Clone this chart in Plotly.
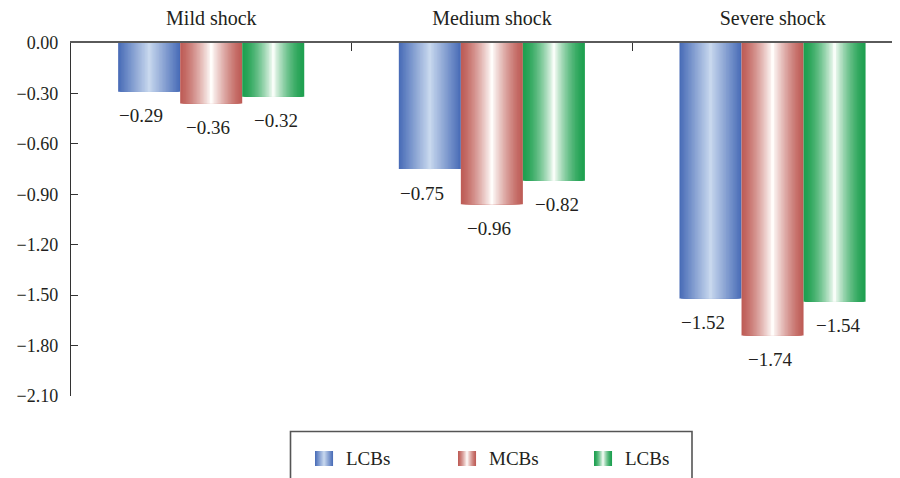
import plotly.graph_objects as go

# ---------------- data ----------------
categories = ["Mild shock", "Medium shock", "Severe shock"]
series_names = ["LCBs", "MCBs", "LCBs"]
lcbs_1 = [-0.29, -0.75, -1.52]
mcbs = [-0.36, -0.96, -1.74]
lcbs_2 = [-0.32, -0.82, -1.54]
series_values = [lcbs_1, mcbs, lcbs_2]
y_ticks = [0.0, -0.3, -0.6, -0.9, -1.2, -1.5, -1.8, -2.1]

# ---------------- styling ----------------
edge_colors = [(70, 106, 182), (190, 92, 86), (30, 160, 80)]
center_colors = [(200, 216, 238), (255, 253, 251), (248, 253, 248)]
grad_power = [1.0, 1.35, 1.6]
FONT = "Liberation Serif"
OFF = 8  # page body margin offset
W, H = 900, 478
L, R, T, B = 71 - OFF, OFF, 43 - OFF, 82 + OFF
PW, PH = W - L - R, H - T - B

BAR_W = 0.221
GROUP_LEFT = -0.332
N_LAYERS = 22


def mix(c0, c1, t):
    return "rgb(%d,%d,%d)" % tuple(round(a + (b - a) * t) for a, b in zip(c0, c1))


def px2x(px):
    return (px - OFF - L) / PW


def px2y(py):
    return (H - B - (py - OFF)) / PH


fig = go.Figure()
xs = list(range(len(categories)))
for j, vals in enumerate(series_values):
    left = GROUP_LEFT + BAR_W * j
    for k in range(N_LAYERS):
        w = BAR_W * (1 - k / N_LAYERS)
        t = (k + 0.5) / N_LAYERS if k < N_LAYERS - 1 else 1.0
        fig.add_trace(go.Bar(
            x=xs, y=vals, width=[w] * len(xs),
            offset=[left + (BAR_W - w) / 2] * len(xs),
            marker=dict(color=mix(edge_colors[j], center_colors[j], t ** grad_power[j]),
                        line=dict(width=0)),
            name=series_names[j], showlegend=False, hoverinfo="skip" if k else "y",
        ))

# data labels
label_xshift = [-8, -3, 3]
annotations = []
for j, vals in enumerate(series_values):
    center = GROUP_LEFT + BAR_W * (j + 0.5)
    for i, v in enumerate(vals):
        annotations.append(dict(
            x=i + center, y=v, xref="x", yref="y", text="\u2212%.2f" % abs(v),
            showarrow=False, xshift=label_xshift[j], yshift=-24,
            font=dict(family=FONT, size=19, color="#231f20"),
            xanchor="center", yanchor="middle",
        ))

# custom legend (gradient swatches)
shapes = [dict(type="rect", xref="paper", yref="paper",
               x0=px2x(290.5), x1=px2x(692), y0=px2y(520), y1=px2y(431.5),
               line=dict(color="#555555", width=1.6), fillcolor="rgba(0,0,0,0)")]
sw_left = [315, 458, 594]
txt_left = [344, 487, 623]
SW = 18
for j, name in enumerate(series_names):
    for s in range(SW):
        t = 1 - abs(2 * (s + 0.5) / SW - 1)
        shapes.append(dict(type="rect", xref="paper", yref="paper",
                           x0=px2x(sw_left[j] + s), x1=px2x(sw_left[j] + s + 1.05),
                           y0=px2y(466), y1=px2y(451), line=dict(width=0),
                           fillcolor=mix(edge_colors[j], center_colors[j], t ** grad_power[j])))
    annotations.append(dict(x=px2x(txt_left[j]), y=px2y(458.5), xref="paper", yref="paper",
                            text=name, showarrow=False, xanchor="left", yanchor="middle",
                            font=dict(family=FONT, size=19, color="#231f20")))

fig.update_layout(
    width=W, height=H, barmode="overlay",
    margin=dict(l=L, r=R, t=T, b=B, pad=0),
    paper_bgcolor="white", plot_bgcolor="white",
    font=dict(family=FONT, size=18, color="#231f20"),
    showlegend=False, shapes=shapes, annotations=annotations,
)
fig.update_xaxes(
    type="category", side="top", tickmode="array", tickvals=xs, ticktext=categories,
    range=[-0.5, 2.5 - 13 / 280.5], showline=True, linecolor="#5a5a5a", linewidth=1.6,
    ticks="inside", tickson="boundaries", ticklen=8, tickcolor="#333333", tickwidth=1.3,
    showgrid=False, zeroline=False, ticklabelstandoff=8, automargin=False,
    tickfont=dict(family=FONT, size=20, color="#231f20"),
)
fig.update_yaxes(
    range=[-2.1, 0], tickmode="array", tickvals=y_ticks, tickformat=".2f",
    showline=True, linecolor="#333333", linewidth=1.3,
    ticks="inside", ticklen=7, tickcolor="#333333", tickwidth=1.3,
    showgrid=False, zeroline=False, ticklabelstandoff=8, automargin=False,
    tickfont=dict(family=FONT, size=18, color="#231f20"),
)

fig.write_html("out.html")
